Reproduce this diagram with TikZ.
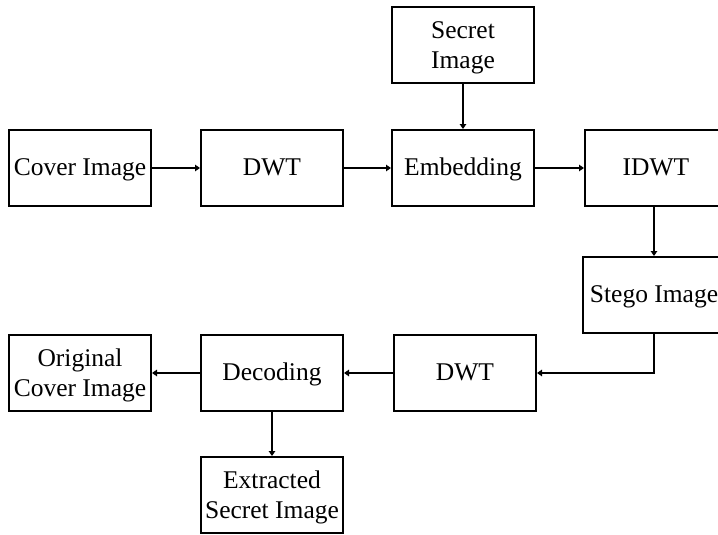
\documentclass[tikz,border=0pt]{standalone}
\usepackage{fontspec}
\setmainfont{Liberation Serif}
\usetikzlibrary{arrows.meta}
\begin{document}
\begin{tikzpicture}[x=1pt,y=-1pt,
  block/.style={draw=black, line width=2pt, rectangle, minimum width=142pt,
    minimum height=76pt, inner sep=0pt, align=center,
    font=\fontsize{25.5}{29.5}\selectfont},
  twoline/.style={block, text height=49.5pt, text depth=3pt},
  oneline/.style={block, align=none, text height=19pt, text depth=4pt},
  flow/.style={line width=2pt,
    -{Triangle[length=0.01pt,width=0.01pt,sep=2.5pt]Triangle[length=5pt,width=6.5pt]}}]
\useasboundingbox (0,0) rectangle (718,535);
\clip (0,0) rectangle (718,535);

% encoding chain
\node[twoline] (secret)  at (463,45)  {Secret\\Image};
\node[oneline] (cover)   at (80,168)  {Cover Image};
\node[oneline] (dwta)    at (272,168) {DWT};
\node[oneline] (embed)   at (463,168) {Embedding};
\node[oneline] (idwt)    at (656,168) {IDWT};
\node[oneline] (stego)   at (654,295) {Stego Image};

% decoding chain
\node[oneline] (dwtb)      at (465,373) {DWT};
\node[oneline] (decode)    at (272,373) {Decoding};
\node[twoline] (original)  at (80,373)  {Original\\Cover Image};
\node[twoline] (extracted) at (272,495) {Extracted\\Secret Image};

\draw[flow] (cover) -- (dwta);
\draw[flow] (dwta) -- (embed);
\draw[flow] (secret) -- (embed);
\draw[flow] (embed) -- (idwt);
\draw[flow] (idwt.south -| stego.north) -- (stego.north);
\draw[flow] (stego.south) |- (dwtb.east);
\draw[flow] (dwtb) -- (decode);
\draw[flow] (decode) -- (original);
\draw[flow] (decode) -- (extracted);
\end{tikzpicture}
\end{document}
